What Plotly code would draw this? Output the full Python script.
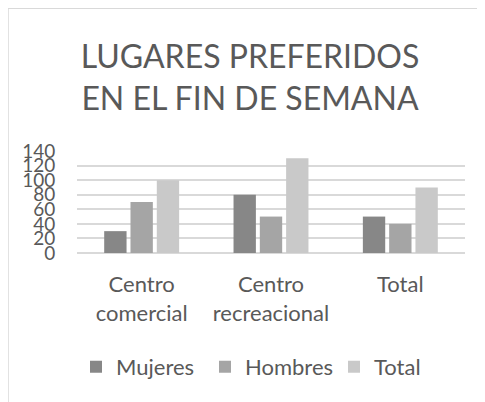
import plotly.graph_objects as go

categories = ["Centro<br>comercial", "Centro<br>recreacional", "Total"]
series_names = ["Mujeres", "Hombres", "Total"]
mujeres = [30, 80, 50]
hombres = [70, 50, 40]
total = [100, 130, 90]
colors = ["#878787", "#a5a5a5", "#c9c9c9"]
y_ticks = [0, 20, 40, 60, 80, 100, 120, 140]

FONT = "Lato"
GRAY = "#595959"

fig = go.Figure()
for name, vals, col in zip(series_names, [mujeres, hombres, total], colors):
    fig.add_trace(go.Bar(x=categories, y=vals, name=name,
                         marker=dict(color=col, line=dict(width=0))))

# page is offset by the 8px body margin; coordinates below are figure pixels
W, H = 477, 394
L, R, T, B = 69, 20, 143, 148.5
pw = W - L - R
ph = H - T - B

def px_x(x):
    return (x - L) / pw

def px_y(y):
    return (H - B - y) / ph

fig.update_layout(
    width=W, height=H,
    margin=dict(l=L, r=R, t=T, b=B, autoexpand=False),
    paper_bgcolor="white", plot_bgcolor="white",
    font=dict(family=FONT, color=GRAY),
    barmode="group", bargap=0.39, bargroupgap=0.15,
    title=dict(text="LUGARES PREFERIDOS<br>EN EL FIN DE SEMANA",
               x=242 / W, xanchor="center", xref="container",
               y=1 - 60 / H, yanchor="top", yref="container",
               font=dict(family=FONT, size=32, color=GRAY)),
    showlegend=True,
    legend=dict(orientation="h", x=px_x(68), xanchor="left",
                y=px_y(360), yanchor="middle", entrywidth=84,
                font=dict(family=FONT, size=22, color=GRAY),
                bgcolor="rgba(0,0,0,0)"),
    xaxis=dict(showgrid=False, showline=False, zeroline=False,
               tickfont=dict(family=FONT, size=22, color=GRAY),
               ticks="outside", ticklen=12, tickcolor="rgba(0,0,0,0)"),
    yaxis=dict(range=[0, 140], tickvals=y_ticks, showgrid=True,
               gridcolor="#d9d9d9", gridwidth=1.5, zeroline=True,
               zerolinecolor="#d9d9d9", zerolinewidth=1.5, showline=False,
               tickfont=dict(family=FONT, size=19, color=GRAY),
               ticks="outside", ticklen=17, tickcolor="rgba(0,0,0,0)"),
    shapes=[
        dict(type="line", xref="paper", yref="paper",
             x0=px_x(0), x1=px_x(W + 5), y0=px_y(-0.5), y1=px_y(-0.5),
             line=dict(color="#d9d9d9", width=1.5)),
        dict(type="line", xref="paper", yref="paper",
             x0=px_x(0), x1=px_x(0), y0=px_y(-0.5), y1=px_y(H + 5),
             line=dict(color="#d9d9d9", width=1.5)),
    ],
)

fig.write_html("out.html")
